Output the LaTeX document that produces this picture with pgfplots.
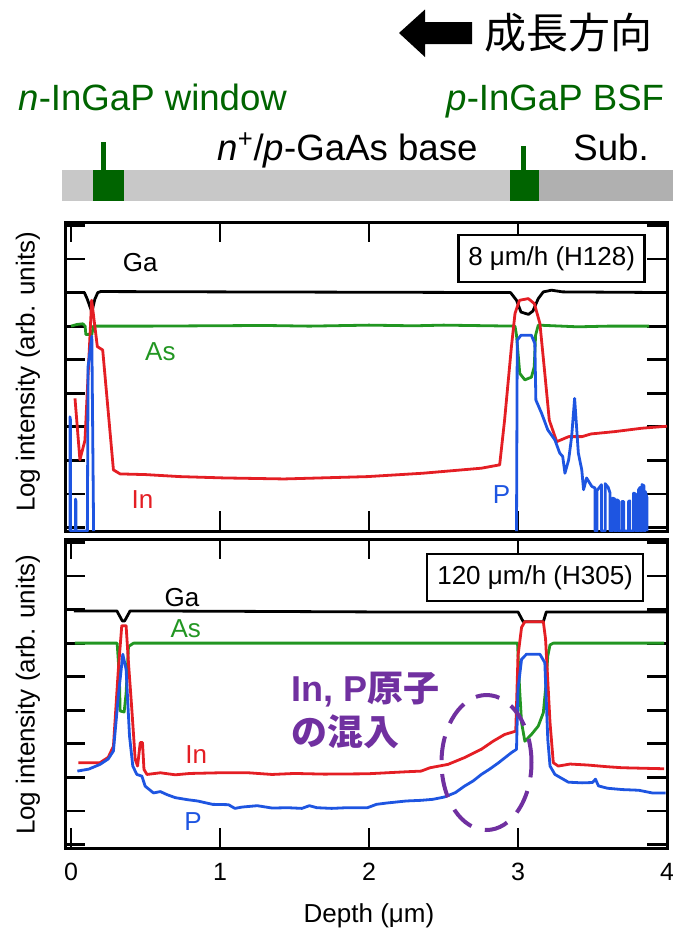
\documentclass[border=0pt]{standalone}
\usepackage{fontspec}
\setmainfont{Liberation Sans}
\newfontfamily\cjk{Noto Sans CJK JP}
\usepackage{pgfplots}
\pgfplotsset{compat=1.18}
\definecolor{asg}{RGB}{34,150,34}
\definecolor{inr}{RGB}{228,30,36}
\definecolor{pb}{RGB}{30,85,225}
\definecolor{dkgreen}{RGB}{0,100,0}
\definecolor{purp}{RGB}{112,48,160}
\definecolor{lgray}{RGB}{200,200,200}
\definecolor{dgray}{RGB}{176,176,176}

\tikzset{lbl/.style={font=\fontsize{13}{15}\selectfont}}
\pgfplotsset{sims/.style={
    scale only axis, width=301pt, height=154.5pt,
    xmin=-0.04, xmax=4.0, ymin=-0.1, ymax=9.1,
    xtick={0,1,2,3,4}, ytick={0,...,9}, yticklabels={},
    tick align=inside, major tick length=10pt,
    major tick style={black, line width=1.4pt},
    axis line style={line width=1.5pt},
    tick label style={font=\fontsize{12.5}{15}\selectfont},
    /pgf/number format/assume math mode=true,
    every axis plot/.append style={line width=1.4pt, line join=round},
}}

\begin{document}
\begin{tikzpicture}
\useasboundingbox (0,0) rectangle (336.5pt,-464pt);

% schematic of the layers
\fill (199.5pt,-16.5pt) -- (212.5pt,-4.75pt) -- (212.5pt,-11pt) -- (236pt,-11pt)
  -- (236pt,-22pt) -- (212.5pt,-22pt) -- (212.5pt,-28.5pt) -- cycle;
\node[font=\cjk\fontsize{21}{21}\selectfont, inner sep=0] at (284pt,-16.5pt) {成長方向};
\node[anchor=base west, inner sep=0, dkgreen, font=\fontsize{18.3}{20}\selectfont] at (9pt,-55pt) {\textit{n}-InGaP window};
\node[anchor=base west, inner sep=0, dkgreen, font=\fontsize{18.3}{20}\selectfont] at (223pt,-55pt) {\textit{p}-InGaP BSF};
\node[anchor=base west, inner sep=0, font=\fontsize{18.3}{20}\selectfont] at (108.5pt,-80pt) {\textit{n}\textsuperscript{+}/\textit{p}-GaAs base};
\node[anchor=base west, inner sep=0, font=\fontsize{18.3}{20}\selectfont] at (286.5pt,-80pt) {Sub.};
\fill[lgray] (31pt,-85pt) rectangle (269.5pt,-100.5pt);
\fill[dgray] (269.5pt,-85pt) rectangle (336.5pt,-100.5pt);
\fill[dkgreen] (46.5pt,-85pt) rectangle (62pt,-100.5pt);
\fill[dkgreen] (255pt,-85pt) rectangle (269.5pt,-100.5pt);
\draw[dkgreen, line width=2.5pt] (51.5pt,-71pt) -- (51.5pt,-85pt);
\draw[dkgreen, line width=2.5pt] (261.5pt,-73pt) -- (261.5pt,-85pt);

% panel 1: 8 um/h
\begin{axis}[sims, at={(32.5pt,-265.5pt)}, anchor=south west, xticklabels={}]
\addplot[black] coordinates {(-0.03,7.0) (0.09,7.0) (0.11,6.8) (0.14,6.42) (0.16,6.8) (0.18,7.0) (0.2,7.03) (1.0,7.02) (2.0,7.01) (2.95,7.0) (2.99,6.77) (3.02,6.42) (3.07,6.35) (3.10,6.45) (3.136,6.82) (3.17,7.02) (3.225,7.07) (3.3,7.02) (4.0,7.0)};
\addplot[asg] coordinates {(0.0,6.0) (0.04,6.05) (0.08,6.07) (0.095,6.0) (0.10,5.75) (0.14,5.75) (0.15,6.0) (0.5,6.0) (1.3,6.02) (1.6,6.0) (2.0,6.03) (2.3,6.01) (2.5,6.03) (2.98,6.0) (2.99,5.73) (3.012,4.59) (3.046,4.4) (3.09,4.48) (3.109,4.79) (3.118,5.73) (3.136,6.03) (3.4,5.98) (3.6,6.0) (3.88,6.0)};
\addplot[inr] coordinates {(0.027,3.85) (0.06,2.02) (0.094,2.6) (0.139,6.77) (0.177,5.39) (0.213,5.29) (0.285,1.72) (0.33,1.6) (0.5,1.58) (0.73,1.52) (1.03,1.48) (1.43,1.45) (1.99,1.52) (2.36,1.62) (2.754,1.77) (2.877,1.87) (2.91,3.2) (2.956,5.39) (2.98,6.38) (3.01,6.77) (3.069,6.82) (3.11,6.67) (3.147,6.08) (3.18,4.59) (3.21,3.2) (3.26,2.56) (3.34,2.71) (3.43,2.71) (3.49,2.79) (3.65,2.86) (3.83,2.96) (4.0,3.02)};
\addplot[pb] coordinates {(-0.007,-0.1) (-0.007,3.3) (-0.003,3.2) (-0.003,-0.1) (0.03,-0.1) (0.03,0.85) (0.033,0.8) (0.033,-0.1) (0.11,-0.1) (0.115,4.8) (0.14,5.7) (0.152,-0.1)};
\addplot[pb] coordinates {(2.99,-0.1) (2.995,5.58) (3.02,5.73) (3.09,5.73) (3.113,5.48) (3.12,3.8) (3.158,3.41) (3.2,2.91) (3.248,2.61) (3.28,2.22) (3.30,2.12) (3.315,1.62) (3.34,2.02) (3.36,2.71) (3.38,3.85) (3.405,2.22) (3.428,1.72) (3.44,1.13) (3.46,1.48) (3.495,1.23) (3.517,1.18) (3.517,-0.1) (3.53,-0.1) (3.53,1.1) (3.56,1.28) (3.56,-0.1) (3.585,-0.1) (3.585,1.31) (3.605,1.2) (3.618,1.03) (3.618,-0.1) (3.636,-0.1) (3.636,0.88) (3.65,0.85) (3.65,-0.1) (3.663,-0.1) (3.663,0.83) (3.675,0.8) (3.675,-0.1) (3.697,-0.1) (3.697,0.78) (3.71,0.78) (3.71,-0.1) (3.742,-0.1) (3.742,0.78) (3.75,0.8) (3.75,-0.1) (3.776,-0.1) (3.776,1.03) (3.79,1.0) (3.79,-0.1) (3.809,-0.1) (3.809,1.13) (3.82,1.2) (3.82,-0.1) (3.832,-0.1) (3.832,1.28) (3.845,1.25) (3.845,-0.1) (3.854,-0.1) (3.854,1.08) (3.865,0.9) (3.865,-0.1)};
\node[lbl] at (axis cs:0.465,7.9) {Ga};
\node[lbl, asg] at (axis cs:0.6,5.23) {As};
\node[lbl, inr] at (axis cs:0.48,0.83) {In};
\node[lbl, pb] at (axis cs:2.89,1.0) {P};
\node[lbl, draw, line width=1.3pt, fill=white, minimum width=93pt, minimum height=23.5pt, inner sep=0] at (axis cs:3.226,8.02) {8 μm/h (H128)};
\end{axis}

% panel 2: 120 um/h
\begin{axis}[sims, at={(32.5pt,-424pt)}, anchor=south west, xticklabels={0,1,2,3,4},
    xticklabel style={yshift=-4pt}]
\addplot[black] coordinates {(0.02,6.96) (0.308,6.96) (0.345,6.66) (0.36,6.66) (0.397,6.96) (1.0,6.95) (2.0,6.93) (3.0,6.93) (3.035,6.64) (3.17,6.64) (3.19,6.93) (4.0,6.93)};
\addplot[asg] coordinates {(0.027,6.0) (0.31,6.0) (0.325,5.0) (0.33,3.98) (0.357,3.95) (0.37,4.5) (0.386,5.9) (0.42,6.0) (1.0,6.0) (2.0,6.0) (2.997,6.0) (3.01,4.7) (3.024,3.63) (3.046,3.08) (3.09,3.28) (3.136,3.53) (3.17,3.93) (3.185,4.63) (3.2,5.62) (3.215,5.95) (3.237,6.0) (3.98,6.0)};
\addplot[inr] coordinates {(0.05,2.44) (0.195,2.44) (0.25,2.6) (0.285,2.93) (0.318,5.22) (0.341,6.52) (0.37,6.52) (0.386,5.42) (0.41,3.93) (0.431,2.54) (0.447,2.34) (0.465,3.04) (0.48,3.04) (0.49,2.24) (0.51,2.09) (0.6,2.14) (0.7,2.08) (0.8,2.12) (1.0,2.14) (1.19,2.14) (1.35,2.09) (1.5,2.12) (1.7,2.1) (1.99,2.11) (2.25,2.17) (2.35,2.19) (2.41,2.29) (2.53,2.39) (2.64,2.59) (2.754,2.84) (2.833,3.08) (2.91,3.28) (2.985,3.38) (3.0,5.62) (3.024,6.47) (3.046,6.64) (3.17,6.64) (3.185,6.12) (3.215,3.63) (3.237,2.44) (3.27,2.34) (3.35,2.4) (3.47,2.37) (3.6,2.32) (3.70,2.29) (3.98,2.26)};
\addplot[pb] coordinates {(0.043,2.19) (0.12,2.25) (0.195,2.39) (0.25,2.55) (0.285,2.79) (0.318,4.43) (0.348,5.67) (0.37,5.22) (0.393,3.23) (0.415,2.34) (0.442,2.09) (0.476,2.04) (0.498,1.74) (0.554,1.54) (0.6,1.58) (0.644,1.49) (0.7,1.40) (0.78,1.34) (0.85,1.30) (0.95,1.2) (1.057,1.19) (1.1,1.08) (1.15,1.12) (1.25,1.16) (1.35,1.09) (1.455,1.1) (1.55,1.08) (1.6,1.16) (1.65,1.1) (1.75,1.08) (1.85,1.1) (1.99,1.1) (2.05,1.2) (2.12,1.24) (2.25,1.3) (2.35,1.32) (2.43,1.35) (2.507,1.42) (2.58,1.55) (2.64,1.74) (2.70,1.9) (2.754,2.09) (2.81,2.25) (2.87,2.44) (2.956,2.74) (2.99,2.84) (3.0,4.63) (3.024,5.52) (3.057,5.67) (3.147,5.67) (3.18,5.42) (3.2,3.13) (3.215,2.34) (3.248,2.09) (3.338,1.86) (3.43,1.84) (3.50,1.85) (3.52,1.95) (3.54,1.75) (3.60,1.68) (3.70,1.64) (3.81,1.62) (3.9,1.54) (3.99,1.54)};
\node[lbl] at (axis cs:0.745,7.36) {Ga};
\node[lbl, asg] at (axis cs:0.77,6.42) {As};
\node[lbl, inr] at (axis cs:0.84,2.69) {In};
\node[lbl, pb] at (axis cs:0.82,0.7) {P};
\node[lbl, draw, line width=1.3pt, fill=white, minimum width=108pt, minimum height=23.5pt, inner sep=0] at (axis cs:3.115,7.96) {120 μm/h (H305)};
\end{axis}

% axis titles and annotation
\node[rotate=90, font=\fontsize{13}{15}\selectfont] at (14pt,-186pt) {Log intensity (arb. units)};
\node[rotate=90, font=\fontsize{13}{15}\selectfont] at (14pt,-347.5pt) {Log intensity (arb. units)};
\node[font=\fontsize{13}{15}\selectfont] at (184.5pt,-458pt) {Depth (μm)};
\draw[purp, line width=2pt, dash pattern=on 12pt off 7pt] (243.25pt,-381.25pt) ellipse [x radius=22.5pt, y radius=33.75pt];
\node[anchor=west, inner sep=0, purp, font=\bfseries\fontsize{18}{20}\selectfont] at (145.5pt,-345pt) {In, P{\cjk\bfseries 原子}};
\node[anchor=west, inner sep=0, purp, font=\fontsize{18}{20}\selectfont] at (145.5pt,-366pt) {{\cjk\bfseries の混入}};
\end{tikzpicture}
\end{document}
